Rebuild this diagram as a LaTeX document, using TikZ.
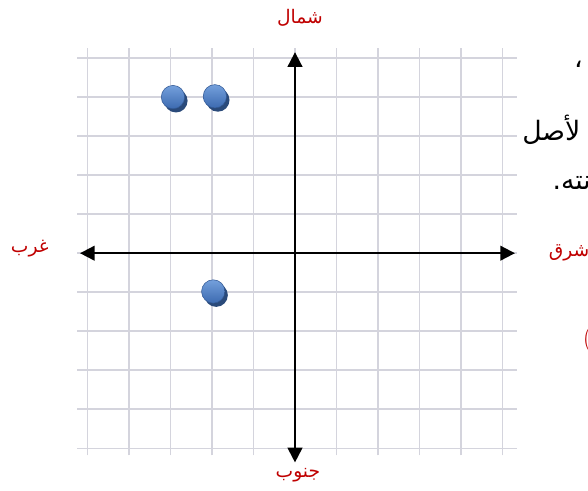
\documentclass[tikz,border=0pt]{standalone}
\usepackage{fontspec}
\usepackage{tikz}
\usetikzlibrary{arrows.meta,shadows}
\TeXXeTstate=1
\newfontfamily\arabicfont[Script=Arabic]{DejaVu Sans}
\definecolor{dir}{HTML}{C00000}
\definecolor{pintop}{HTML}{74A0DC}
\definecolor{pinbot}{HTML}{3C6AB0}
\definecolor{pindark}{HTML}{2A4A7A}
\definecolor{paper}{HTML}{D4D4DD}

\newcommand{\AR}[1]{{\arabicfont\beginR #1\endR}}

\begin{document}
\begin{tikzpicture}[x=31.1pt,y=29.25pt,
  gridline/.style={paper, line width=1.3pt},
  axis/.style={{Triangle[length=11pt,width=11pt]}-{Triangle[length=11pt,width=11pt]}, line width=1.5pt},
  dirlabel/.style={text=dir, font=\fontsize{14}{16}\selectfont, inner sep=1pt},
  cuttext/.style={font=\fontsize{20}{22}\selectfont, inner sep=0pt, anchor=west},
  pin/.style={circle, minimum size=17.5pt, inner sep=0pt, top color=pintop, bottom color=pinbot,
    draw=pinbot!85!black, line width=0.4pt,
    drop shadow={shadow xshift=2.2pt, shadow yshift=-2.8pt, fill=pindark, opacity=1}}]
\clip (-7.108,-6.077) rectangle (7.06,6.487);
\fill[white] (-7.108,-6.077) rectangle (7.06,6.487);
% grid
\foreach \k in {-5,...,5} {
  \draw[gridline] (\k,-5.18) -- (\k,5.26);
  \draw[gridline] (-5.25,\k) -- (5.35,\k);
}
% axes
\coordinate (W) at (-5.18,0);
\coordinate (E) at (5.30,0);
\coordinate (N) at (0,5.15);
\coordinate (S) at (0,-5.36);
\draw[axis] (W) -- (E);
\draw[axis] (S) -- (N);
% directions
\node[dirlabel] (north) at (0.12,6.03) {\AR{شمال}};
\node[dirlabel] (south) at (0.07,-5.69) {\AR{جنوب}};
\node[dirlabel] (west) at (-6.39,0.12) {\AR{غرب}};
\node[dirlabel, anchor=west] (east) at (6.08,0.0) {\AR{شرق}};
% pins
\foreach \p/\n in {(-2.94,4.0)/a,(-1.93,4.02)/b,(-1.97,-0.98)/c}
  \node[pin] (pin\n) at \p {};
% text cut at the page edge
\node[cuttext] (line1) at (6.72,4.85) {\AR{،}};
\node[cuttext] (line2) at (5.47,3.15) {\AR{لأصل}};
\node[cuttext] (line3) at (6.2,1.79) {\AR{نته.}};
\node[cuttext, text=dir] (brace) at (6.93,-2.23) {(};
\end{tikzpicture}
\end{document}
